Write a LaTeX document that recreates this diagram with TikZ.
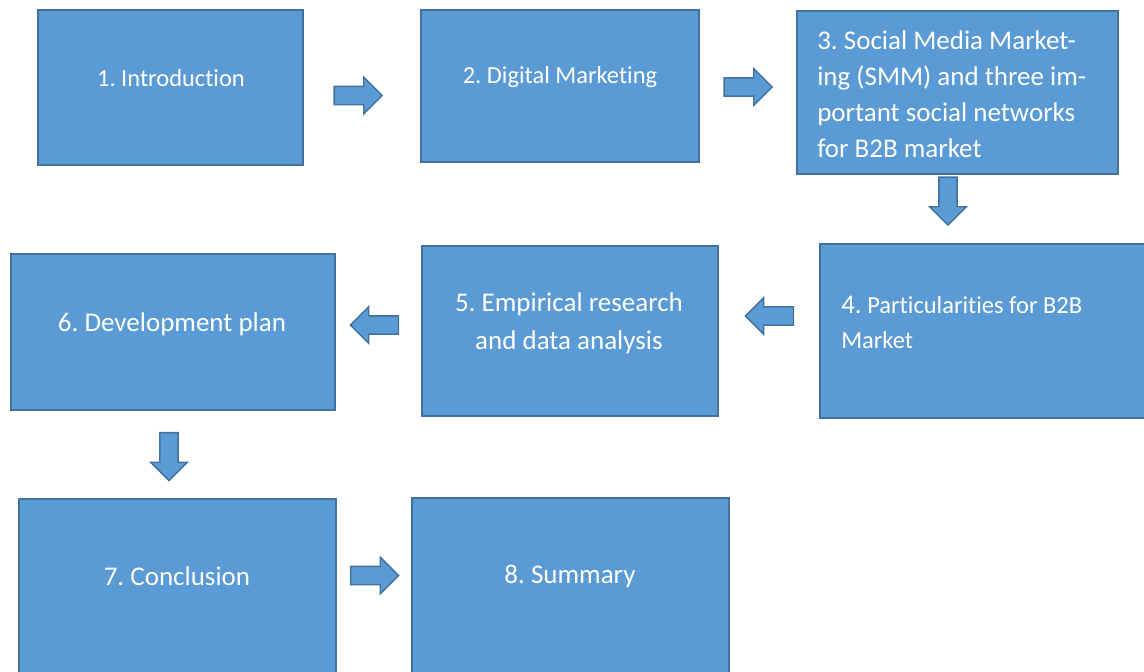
\documentclass[tikz,border=0pt]{standalone}
\usepackage{fontspec}
\setmainfont{Carlito}[Ligatures={NoCommon}]
\usetikzlibrary{shapes.arrows}
\definecolor{boxblue}{HTML}{5B9BD5}
\definecolor{boxedge}{HTML}{41719C}
\frenchspacing

\begin{document}
\begin{tikzpicture}[x=0.025cm,y=-0.025cm,
  box/.style={draw=boxedge,fill=boxblue,line width=1.4pt,inner sep=0pt},
  bigtxt/.style={text=white,inner sep=0pt,font=\fontsize{19.2}{25.6}\selectfont},
  smalltxt/.style={text=white,inner sep=0pt,font=\fontsize{17.4}{25}\selectfont},
  blockarrow/.style={single arrow,draw=boxedge,fill=boxblue,line width=1pt,
    inner xsep=0pt,inner ysep=0.21cm,single arrow head extend=0.23cm,
    minimum height=1.2cm}]

\clip (0,0) rectangle (1144,671);

% boxes
\node[box,minimum width=6.625cm,minimum height=3.875cm] (b1) at (170.5,87.5) {};
\node[box,minimum width=6.95cm,minimum height=3.8cm] (b2) at (560,86) {};
\node[box,minimum width=8.025cm,minimum height=4.075cm] (b3) at (957.5,92.5) {};
\node[box,minimum width=8.5cm,minimum height=4.35cm] (b4) at (990,331) {};
\node[box,minimum width=7.4cm,minimum height=4.25cm] (b5) at (570,331) {};
\node[box,minimum width=8.1cm,minimum height=3.9cm] (b6) at (173,332) {};
\node[box,minimum width=7.925cm,minimum height=5.025cm] (b7) at (177.5,599.5) {};
\node[box,minimum width=7.925cm,minimum height=5.05cm] (b8) at (570.5,599) {};

% texts
\node[smalltxt] (t1) at (171,78) {1. Introduction};
\node[smalltxt] (t2) at (560,77) {2. Digital Marketing};
\node[bigtxt,anchor=west,align=left] (t3) at (817,94)
  {3. Social Media Market-\\ing (SMM) and three im-\\portant social networks\\for B2B market};
\node[smalltxt,anchor=west,align=left] (t4) at (841,322)
  {{\fontsize{19.2}{25}\selectfont 4.} Particularities for B2B\\Market};
\node[bigtxt,align=center,font=\fontsize{19.2}{27}\selectfont] (t5) at (569,323)
  {5. Empirical research\\and data analysis};
\node[bigtxt] (t6) at (172,324) {6. Development plan};
\node[bigtxt] (t7) at (177,576) {7. Conclusion};
\node[bigtxt] (t8) at (570,576) {8. Summary};

% block arrows
\node[blockarrow] (a12) at (353.5,95.5) {};
\node[blockarrow] (a23) at (743.5,87) {};
\node[blockarrow,rotate=-90] (a34) at (948,196.5) {};
\node[blockarrow,rotate=180] (a45) at (774,316) {};
\node[blockarrow,rotate=180] (a56) at (379,325) {};
\node[blockarrow,rotate=-90] (a67) at (169,452) {};
\node[blockarrow] (a78) at (370,575.5) {};

\end{tikzpicture}
\end{document}
